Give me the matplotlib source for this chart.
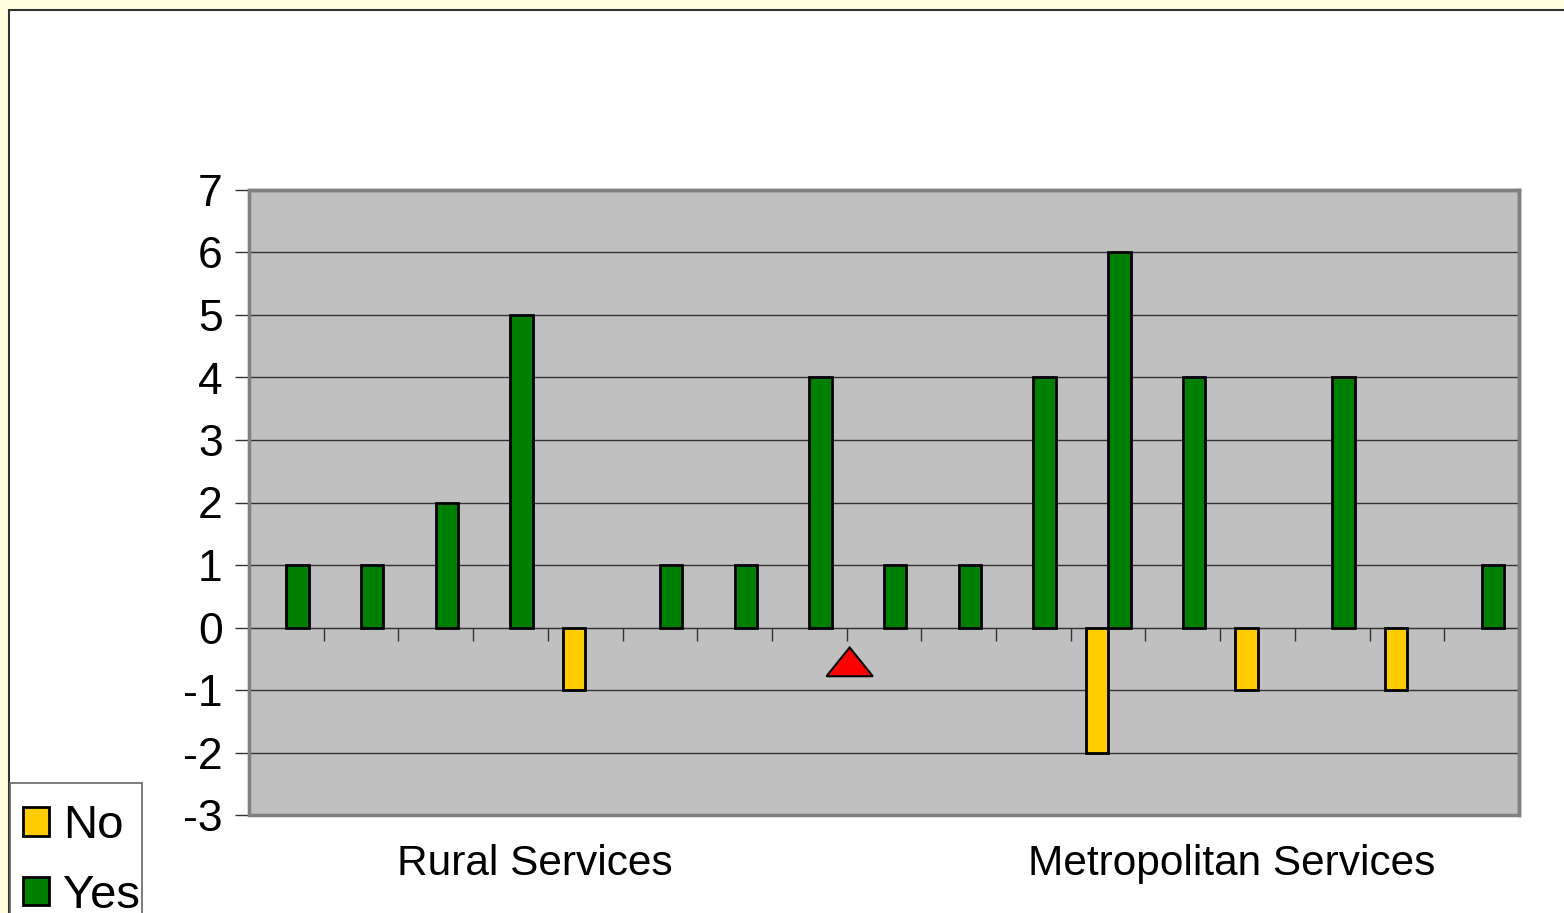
import numpy as np
import matplotlib
matplotlib.use("Agg")
import matplotlib.pyplot as plt
from matplotlib.patches import Rectangle, Polygon, Patch

plt.rcParams['font.family'] = ['Liberation Sans', 'DejaVu Sans']
plt.rcParams['axes.unicode_minus'] = False

# datos
categorias = np.arange(17)
valores_yes = [1, 1, 2, 5, 0, 1, 1, 4, 1, 1, 4, 6, 4, 0, 4, 0, 1]
valores_no = [0, 0, 0, 0, -1, 0, 0, 0, 0, 0, 0, -2, 0, -1, 0, -1, 0]
grupos = ["Rural Services", "Metropolitan Services"]
grupos_pos = [0.225, 0.7735]
y_ticks = list(range(-3, 8))
marca_x = 7.54
marca_y = -0.55

fig = plt.figure(figsize=(15.64, 9.13), dpi=100, facecolor='#FFFFE0')

# area blanca del grafico
fig.patches.append(Rectangle((9 / 1564, -0.01), 1.0, 1 - 10 / 913 + 0.01,
                             transform=fig.transFigure, facecolor='white',
                             edgecolor='#333333', linewidth=1.5, zorder=-5))

ax = fig.add_axes([249 / 1564, 1 - 815 / 913, 1270 / 1564, 625 / 913])
ax.set_facecolor('#C0C0C0')

# solo barras distintas de cero (Excel no dibuja las de valor 0)
yes = np.array(valores_yes, dtype=float)
no = np.array(valores_no, dtype=float)
m_yes = yes != 0
m_no = no != 0

ancho = 0.3
ax.bar(categorias[m_no] - 0.15, no[m_no], width=ancho, color='#FFCC00',
       edgecolor='black', linewidth=2, zorder=3)
ax.bar(categorias[m_yes] + 0.15, yes[m_yes], width=ancho, color='#008000',
       edgecolor='black', linewidth=2, zorder=3)

ax.set_xlim(-0.5, 16.5)
ax.set_ylim(-3, 7)
ax.set_yticks(y_ticks)
ax.tick_params(axis='y', labelsize=32, length=10, width=1, pad=9, color='#333333')
ax.yaxis.grid(True, color='#333333', linewidth=1, zorder=1)
ax.set_axisbelow(True)

# eje x en cero con marcas hacia abajo
ax.spines['bottom'].set_position(('data', 0))
ax.spines['bottom'].set_color('#333333')
ax.spines['bottom'].set_zorder(2)
ax.set_xticks(np.arange(-0.5, 17.5, 1))
ax.set_xticklabels([])
ax.tick_params(axis='x', direction='out', length=9, width=1, color='#333333')
ax.spines['left'].set_color('#333333')
ax.spines['left'].set_linewidth(1.5)
for s in ['top', 'right']:
    ax.spines[s].set_color('#808080')
    ax.spines[s].set_linewidth(2.5)
ax.add_patch(Rectangle((0, 0), 1, 1, transform=ax.transAxes, fill=False,
                       edgecolor='#808080', linewidth=2.5, zorder=4, clip_on=False))

# triangulo rojo
ax.add_patch(Polygon([[marca_x - 0.31, marca_y - 0.23], [marca_x + 0.31, marca_y - 0.23],
                      [marca_x, marca_y + 0.23]], closed=True, facecolor='#FF0000',
                     edgecolor='black', linewidth=1.5, zorder=5))

for nombre, px in zip(grupos, grupos_pos):
    ax.text(px, -0.078, nombre, transform=ax.transAxes, ha='center', va='center',
            fontsize=30.5)

# recuadro de la leyenda
fig.patches.append(Rectangle((10 / 1564, -0.01), 132 / 1564, 1 - 783 / 913 + 0.01,
                             transform=fig.transFigure, facecolor='white',
                             edgecolor='#666666', linewidth=1.2, zorder=1))

handles = [Patch(facecolor='#FFCC00', edgecolor='black', linewidth=2, label='No'),
           Patch(facecolor='#008000', edgecolor='black', linewidth=2, label='Yes')]
leg = fig.legend(handles=handles, loc='upper left', bbox_to_anchor=(23 / 1564, 1 - 804 / 913),
                 fontsize=34, frameon=False, handlelength=0.55,
                 handleheight=0.55, handletextpad=0.3, labelspacing=0.54,
                 borderpad=0, borderaxespad=0)
leg.set_zorder(2)

fig.savefig('out.png', dpi=100, facecolor=fig.get_facecolor())
